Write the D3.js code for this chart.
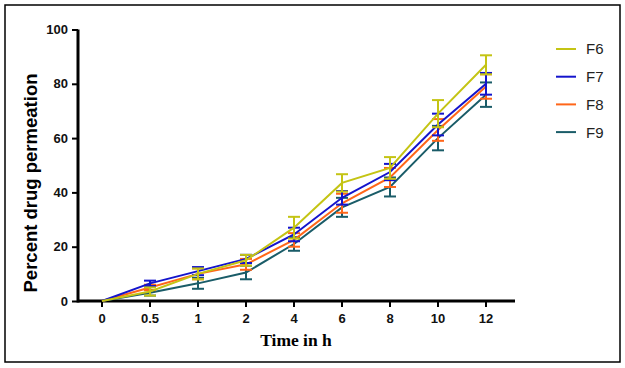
<!DOCTYPE html>
<html>
<head>
<meta charset="utf-8">
<script src="https://cdn.jsdelivr.net/npm/d3@7"></script>
<style>
  body { margin: 0; background: #fff; }
  svg { display: block; }
</style>
</head>
<body>
<div id="chart"></div>
<script>
// permeation profile, F6-F9

const timeLabels = ['0', '0.5', '1', '2', '4', '6', '8', '10', '12'];
const yTicks = [0, 20, 40, 60, 80, 100];

const seriesNames = ['F6', 'F7', 'F8', 'F9'];
const f6Mean = [0, 3.5, 10, 15, 27, 43.5, 49, 69, 87];
const f6Err = [0, 1.5, 2, 2, 4, 3.2, 4, 5, 3.5];
const f7Mean = [0, 6.5, 11, 15.5, 24.5, 38, 47.5, 65, 80];
const f7Err = [0, 1, 1.5, 1.5, 2.5, 2.5, 3, 4, 4];
const f8Mean = [0, 5, 10, 13.5, 22.5, 36, 45.5, 63, 79];
const f8Err = [0, 1, 2, 2, 2.5, 3.5, 3.5, 4, 4.5];
const f9Mean = [0, 3, 6.5, 10.5, 21, 34.5, 42, 60, 76];
const f9Err = [0, 1, 2, 2.5, 2.5, 3.5, 3.5, 4.5, 4.5];

const colors = { F6: '#c4c414', F7: '#1414cc', F8: '#ff6619', F9: '#1a5c68' };

const series = [
    { name: 'F6', mean: f6Mean, err: f6Err },
    { name: 'F7', mean: f7Mean, err: f7Err },
    { name: 'F8', mean: f8Mean, err: f8Err },
    { name: 'F9', mean: f9Mean, err: f9Err }
];

const width = 625, height = 368;
const svg = d3.select('#chart').append('svg').attr('width', width).attr('height', height);

svg.append('rect').attr('x', 5).attr('y', 5).attr('width', 615).attr('height', 357)
    .attr('fill', 'none').attr('stroke', '#000').attr('stroke-width', 1.5);

const x = d3.scaleBand().domain(timeLabels).range([78, 510]);
const y = d3.scaleLinear().domain([0, 100]).range([301, 29.5]);
const cx = d => x(d) + x.bandwidth() / 2;

// axes
const xAxisG = svg.append('g').attr('transform', 'translate(0,301)')
    .call(d3.axisBottom(x).tickSize(6).tickPadding(7).tickSizeOuter(0));
xAxisG.select('.domain').attr('stroke-width', 3).attr('d', 'M78,0H515');
xAxisG.selectAll('.tick line').attr('stroke-width', 2);
xAxisG.selectAll('.tick text').style('font-family', 'Liberation Sans, Arial, sans-serif')
    .style('font-size', '13px').style('font-weight', 'bold').attr('fill', '#111');

const yAxisG = svg.append('g').attr('transform', 'translate(78,0)')
    .call(d3.axisLeft(y).tickValues(yTicks).tickSize(6).tickPadding(4).tickSizeOuter(0));
yAxisG.select('.domain').attr('stroke-width', 3).attr('d', 'M0,29.5V302.5');
yAxisG.selectAll('.tick line').attr('stroke-width', 2);
yAxisG.selectAll('.tick text').style('font-family', 'Liberation Sans, Arial, sans-serif')
    .style('font-size', '13px').style('font-weight', 'bold').attr('fill', '#111');

svg.append('text').attr('transform', 'translate(37,183) rotate(-90)')
    .attr('text-anchor', 'middle')
    .style('font-family', 'Liberation Sans, Arial, sans-serif').style('font-size', '18.5px').style('font-weight', 'bold')
    .text('Percent drug permeation');

svg.append('text').attr('x', 296).attr('y', 346).attr('text-anchor', 'middle')
    .style('font-family', 'Liberation Serif, Times New Roman, serif').style('font-size', '17.5px').style('font-weight', 'bold')
    .text('Time in h');

// series, drawn F9 first so F6 ends up on top
const line = d3.line().x((d, i) => cx(timeLabels[i])).y(d => y(d));
const drawOrder = series.slice().reverse();

drawOrder.forEach(s => {
    const g = svg.append('g').attr('class', 'series-' + s.name);
    const c = colors[s.name];
    s.mean.forEach((m, i) => {
        if (s.err[i] === 0) return;
        const px = cx(timeLabels[i]);
        const top = y(m + s.err[i]), bot = y(m - s.err[i]);
        g.append('line').attr('x1', px).attr('x2', px).attr('y1', top).attr('y2', bot)
            .attr('stroke', c).attr('stroke-width', 2);
        [top, bot].forEach(yy => g.append('line').attr('x1', px - 6).attr('x2', px + 6)
            .attr('y1', yy).attr('y2', yy).attr('stroke', c).attr('stroke-width', 2));
    });
    g.append('path').datum(s.mean).attr('d', line)
        .attr('fill', 'none').attr('stroke', c).attr('stroke-width', 2);
});

// legend
const legend = svg.append('g');
seriesNames.forEach((name, i) => {
    const yy = 49 + i * 27.7;
    legend.append('line').attr('x1', 556).attr('x2', 576).attr('y1', yy).attr('y2', yy)
        .attr('stroke', colors[name]).attr('stroke-width', 2);
    legend.append('text').attr('x', 586).attr('y', yy).attr('dy', '0.36em')
        .style('font-family', 'Liberation Sans, Arial, sans-serif').style('font-size', '15px').attr('fill', '#222')
        .text(name);
});
</script>
</body>
</html>
